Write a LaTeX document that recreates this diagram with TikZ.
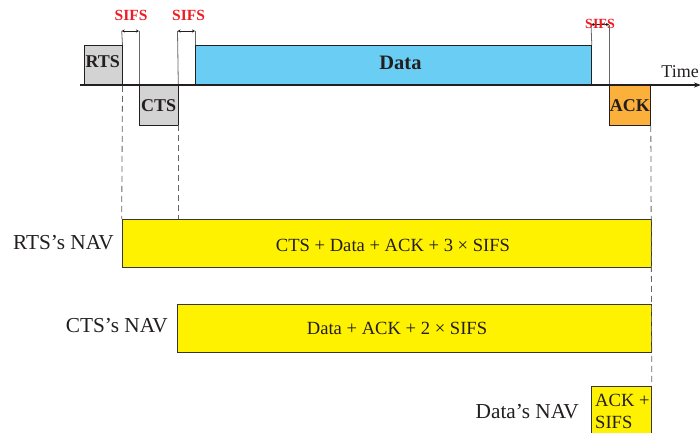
\documentclass[tikz,border=0pt]{standalone}
\usepackage{fontspec}
\setmainfont{Liberation Serif}
\usetikzlibrary{arrows.meta}
\definecolor{pktgray}{RGB}{211,211,211}
\definecolor{datablue}{RGB}{106,205,244}
\definecolor{ackorange}{RGB}{251,176,59}
\definecolor{navyellow}{RGB}{255,242,0}
\definecolor{sifsred}{RGB}{237,28,36}
\definecolor{ink}{RGB}{35,31,32}
\newcommand\mysize[1]{\fontsize{#1}{#1}\selectfont}
\begin{document}
\begin{tikzpicture}[x=1pt,y=-1pt,
  pkt/.style={draw=ink, line width=0.8pt, anchor=north west, inner sep=0pt, text=ink,
              font=\bfseries\mysize{18}},
  navbox/.style={draw=ink!90, line width=0.8pt, fill=navyellow, anchor=north west, inner sep=0pt},
  navtext/.style={text=ink, font=\mysize{18.6}, inner sep=0pt},
  navlabel/.style={text=ink, font=\mysize{21.3}, inner sep=0pt, anchor=east},
  sifs/.style={text=sifsred, font=\bfseries\mysize{15.5}, inner sep=0pt},
  ext/.style={draw=black!60, line width=0.8pt},
  guide/.style={draw=black!60, line width=0.8pt, dash pattern=on 6pt off 4pt},
  gap/.style={draw=ink, line width=0.6pt, {Stealth[length=3pt,width=3pt]}-{Stealth[length=3pt,width=3pt]}},
  timeline/.style={draw=ink, line width=1.6pt, -{Stealth[length=7pt,width=5pt]}}
]
\clip (0,0) rectangle (700,432);
\fill[white] (0,0) rectangle (700,432);

% packets on the time axis
\node[pkt, fill=pktgray, minimum width=37.7pt, minimum height=40pt] (rts) at (84,45) {};
\node[text=ink, font=\bfseries\mysize{18}, inner sep=0pt] (rtst) at (102.8,61.5) {RTS};
\node[pkt, fill=pktgray, minimum width=38.5pt, minimum height=39.5pt] (cts) at (139,85) {CTS};
\node[pkt, fill=datablue, minimum width=396pt, minimum height=40pt] (data) at (195,45) {};
\node[text=ink, font=\bfseries\mysize{20.5}, inner sep=0pt] (datat) at (400.5,63) {Data};
\node[pkt, fill=ackorange, minimum width=41pt, minimum height=40pt] (ack) at (609,85) {ACK};

% SIFS extension lines
\coordinate (s1a) at (121.7,31);
\coordinate (s1b) at (139,31);
\coordinate (s2a) at (177.5,31);
\coordinate (s2b) at (195,31);
\coordinate (s3a) at (591,24.5);
\coordinate (s3b) at (609,24.5);
\draw[ext] (rts.north east) -- (s1a);
\draw[ext] (cts.north west) -- (s1b);
\draw[ext] (cts.north east) -- (s2a);
\draw[ext] (data.north west) -- (s2b);
\draw[ext] (data.north east) -- (s3a);
\draw[ext] (ack.north west) -- (s3b);
\draw[gap] (s1a) -- (s1b);
\draw[gap] (s2a) -- (s2b);
\draw[gap] (s3a) -- (s3b);
\node[sifs] (sifs1) at (131,15) {SIFS};
\node[sifs] (sifs2) at (188.5,15) {SIFS};
\node[sifs, font=\bfseries\mysize{14}] (sifs3) at (600,24) {SIFS};

% time axis
\coordinate (t0) at (80,85);
\coordinate (t1) at (701,85);
\draw[timeline] (t0) -- (t1);
\node[text=ink, font=\mysize{18}, inner sep=0pt, anchor=base east] (time) at (699,77) {Time};

% NAV boxes
\node[navbox, minimum width=528.8pt, minimum height=48pt] (rtsnav) at (121.7,219) {};
\node[navtext] (rtsnavt) at (393,245) {CTS + Data + ACK + 3 × SIFS};
\node[navbox, minimum width=473.5pt, minimum height=48.5pt] (ctsnav) at (177.3,303.5) {};
\node[navtext] (ctsnavt) at (397,328) {Data + ACK + 2 × SIFS};
\node[navbox, minimum width=60.5pt, minimum height=60pt] (datanav) at (590.5,386) {};
\node[navtext, anchor=north west, align=left, font={\fontsize{18.6}{21.5}\selectfont}] (datanavt) at (595,394) {ACK +\\SIFS};

% NAV labels
\node[navlabel] (rtsl) at (114,243) {RTS’s NAV};
\node[navlabel] (ctsl) at (168,326) {CTS’s NAV};
\node[navlabel] (datal) at (579,411.5) {Data’s NAV};

% dashed guides
\draw[guide] (rts.south east) -- (rtsnav.north west);
\draw[guide] (cts.south east) -- (cts.south east |- rtsnav.north);
\draw[guide] (ack.south east) -- (datanav.north east);
\end{tikzpicture}
\end{document}
